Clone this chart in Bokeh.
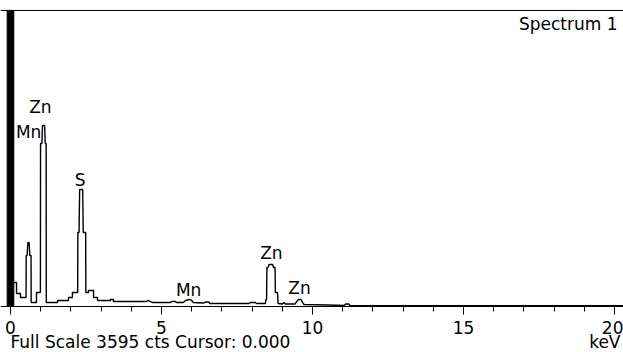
from bokeh.plotting import figure
from bokeh.models import SingleIntervalTicker, Span, Label, ColumnDataSource
from bokeh.core.properties import value
from bokeh.embed import file_html
from bokeh.resources import INLINE

# ---- data ----
FULL_SCALE = 3595  # cts
ENERGY_KEV = [0.10, 0.20, 0.20, 0.33, 0.33, 0.515, 0.52, 0.55, 0.575, 0.615, 0.64, 0.68, 0.685,
              0.86, 0.86, 0.99, 0.995, 1.04, 1.06, 1.13, 1.15, 1.18, 1.185, 1.56, 1.56, 1.92,
              1.92, 2.05, 2.05, 2.225, 2.23, 2.27, 2.29, 2.39, 2.41, 2.49, 2.495, 2.58, 2.58,
              2.75, 2.75, 2.88, 2.88, 3.31, 3.31, 3.41, 3.41, 4.50, 4.55, 4.62, 4.70, 5.30,
              5.36, 5.46, 5.50, 5.72, 5.80, 5.92, 6.00, 6.05, 6.40, 6.46, 6.56, 6.60, 7.90,
              7.95, 8.10, 8.15, 8.44, 8.46, 8.48, 8.49, 8.53, 8.56, 8.68, 8.71, 8.76, 8.77,
              8.84, 8.86, 9.00, 9.05, 9.10, 9.42, 9.48, 9.53, 9.62, 9.67, 9.72, 10.5, 11.05,
              11.10, 11.20, 11.25, 20.30]
COUNTS = [291, 291, 158, 158, 109, 109, 619, 619, 777, 777, 619, 619, 49,
          49, 170, 170, 1980, 1980, 2198, 2198, 1980, 1980, 49, 49, 73, 73,
          109, 109, 170, 170, 899, 899, 1421, 1421, 899, 899, 170, 170, 194,
          194, 109, 109, 73, 73, 85, 85, 61, 61, 73, 61, 49, 49,
          61, 61, 49, 49, 73, 85, 73, 49, 42, 55, 55, 36, 36,
          49, 49, 36, 36, 85, 85, 474, 474, 510, 510, 474, 474, 170,
          170, 36, 30, 49, 30, 30, 61, 85, 85, 49, 24, 18, 12,
          30, 30, 8, 8]
ZERO_PEAK_KEV = [0.0]
ZERO_PEAK_CTS = [3595]  # saturated noise peak

LABEL_TEXT = ["Zn", "Mn", "S", "Zn", "Mn", "Zn"]
LABEL_KEV = [0.99, 0.60, 2.31, 8.64, 5.90, 9.57]
LABEL_CTS = [2417, 2113, 1530, 644, 194, 219]

TICK_INTERVAL = 5
TITLE_TEXT = "Spectrum 1"
FOOTER_TEXT = "Full Scale 3595 cts Cursor: 0.000"
UNIT_TEXT = "keV"

FONT = "DejaVu Sans"

W, H = 623, 352
p = figure(width=W, height=H, output_backend="svg", toolbar_location=None,
           x_range=(-0.331, 20.298), y_range=(-559, 3716),
           y_axis_location=None, min_border_left=0, min_border_right=0,
           min_border_top=0, min_border_bottom=0)
p.outline_line_color = None
p.xgrid.visible = False
p.ygrid.visible = False
p.background_fill_color = "white"
p.border_fill_color = "white"

ax = p.xaxis[0]
ax.fixed_location = 0
ax.ticker = SingleIntervalTicker(interval=TICK_INTERVAL, num_minor_ticks=5)
ax.axis_line_color = "black"
ax.axis_line_width = 1
ax.major_tick_in = 0
ax.major_tick_out = 8
ax.minor_tick_in = 0
ax.minor_tick_out = 5
ax.major_tick_line_color = "black"
ax.minor_tick_line_color = "black"
ax.major_label_standoff = 7
ax.major_label_text_font = FONT
ax.major_label_text_font_size = "17px"
ax.major_label_text_color = "black"

# top frame line at full scale
p.add_layout(Span(location=FULL_SCALE, dimension="width", line_color="black", line_width=1))

# peak labels
src_lab = ColumnDataSource(dict(x=LABEL_KEV, y=LABEL_CTS, t=LABEL_TEXT))
p.text(x="x", y="y", text="t", source=src_lab, text_align="center", text_baseline="middle",
       text_font=value(FONT), text_font_size="17px", text_color="black")

# spectrum
p.line(ENERGY_KEV, COUNTS, line_color="black", line_width=1.4)
p.vbar(x=ZERO_PEAK_KEV, top=ZERO_PEAK_CTS, bottom=0, width=0.22, fill_color="black", line_color="black")

p.add_layout(Label(x=617, y=H - 23.5, x_units="screen", y_units="screen", text=TITLE_TEXT,
                   text_align="right", text_baseline="middle", text_font=FONT,
                   text_font_size="17px", text_color="black"))
p.add_layout(Label(x=10, y=0.5, x_units="screen", y_units="screen", text=FOOTER_TEXT,
                   text_align="left", text_baseline="bottom", text_font=FONT,
                   text_font_size="17px", text_color="black"))
p.add_layout(Label(x=620, y=0.5, x_units="screen", y_units="screen", text=UNIT_TEXT,
                   text_align="right", text_baseline="bottom", text_font=FONT,
                   text_font_size="17px", text_color="black"))

open("out.html", "w").write(file_html(p, INLINE))
